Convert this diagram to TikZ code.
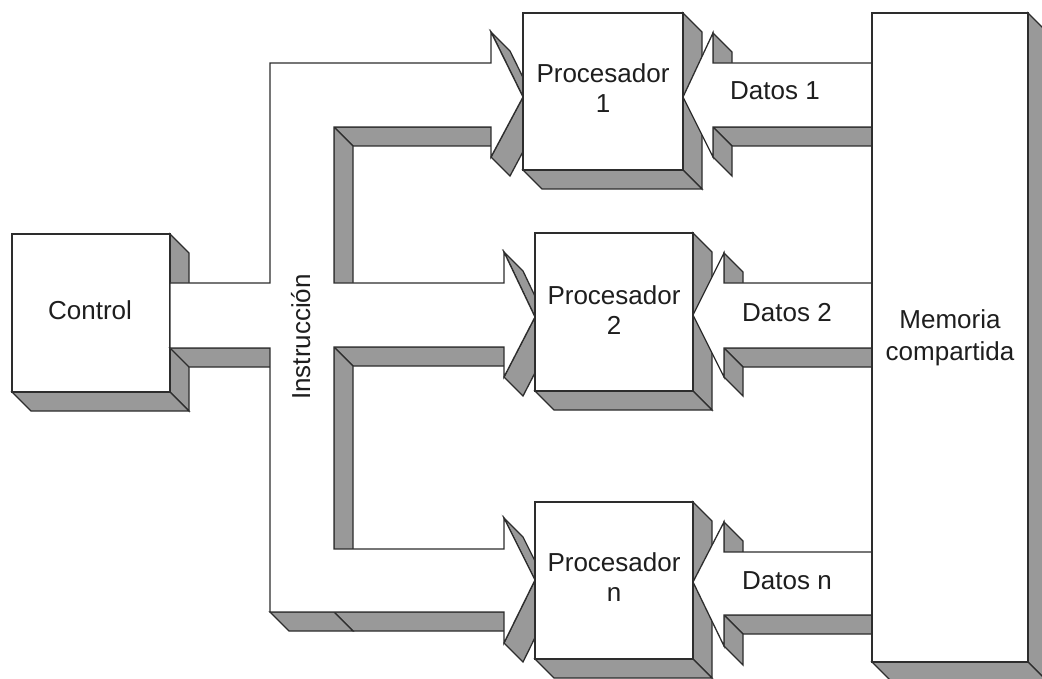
\documentclass[tikz,border=0pt]{standalone}
\usepackage{fontspec}
\setmainfont{Liberation Sans}
\usetikzlibrary{calc}
\definecolor{sidegray}{RGB}{153,153,153}
\definecolor{edgecol}{RGB}{45,45,45}
\definecolor{txtcol}{RGB}{30,30,30}
\tikzset{
  side/.style={fill=sidegray, draw=edgecol, line width=1.3pt, line join=miter},
  front/.style={fill=white, draw=edgecol, line width=1.3pt, line join=miter},
  lbl/.style={font=\fontsize{26}{30}\selectfont, align=center, text=txtcol, inner sep=0pt, outer sep=0pt},
}
\newcommand{\extq}[2]{\path[side] (#1) -- (#2) -- ($(#2)+(19,19)$) -- ($(#1)+(19,19)$) -- cycle;}
\newcommand{\procbox}[4]{%
  \extq{#3,#2}{#3,#4}
  \extq{#3,#4}{#1,#4}
  \path[front] (#1,#2) rectangle (#3,#4);}
% datos arrow: back x, tip x, tip y, top, bottom, barb top, barb bottom
\newcommand{\datarrow}[7]{%
  \extq{#1,#4}{#1,#6}
  \extq{#1,#5}{872,#5}
  \extq{#1,#7}{#1,#5}
  \path[front] (872,#4) -- (#1,#4) -- (#1,#6) -- (#2,#3) -- (#1,#7) -- (#1,#5) -- (872,#5) -- cycle;}
\begin{document}
\begin{tikzpicture}[x=1pt,y=-1pt]
\useasboundingbox (0,0) rectangle (1042,679);
\begin{scope}
\clip (0,0) rectangle (1042,679);
\fill[white] (0,0) rectangle (1042,679);
% Control box
\procbox{12}{234}{170}{392}
% Instruction bus: side faces
\extq{491,127}{334,127}
\extq{334,127}{334,283}
\extq{504,347}{334,347}
\extq{334,347}{334,549}
\extq{504,612}{334,612}
\extq{334,612}{270,612}
\extq{270,348}{170,348}
\extq{491,32}{523,97}
\extq{523,97}{491,157}
\extq{504,252}{535,317}
\extq{535,317}{504,377}
\extq{504,518}{535,580}
\extq{535,580}{504,643}
% Instruction bus: front face
\path[front] (270,63) -- (491,63) -- (491,32) -- (523,97) -- (491,157) -- (491,127)
  -- (334,127) -- (334,283) -- (504,283) -- (504,252) -- (535,317) -- (504,377) -- (504,347)
  -- (334,347) -- (334,549) -- (504,549) -- (504,518) -- (535,580) -- (504,643) -- (504,612)
  -- (270,612) -- (270,348) -- (170,348) -- (170,283) -- (270,283) -- cycle;
% Processors
\procbox{523}{13}{683}{170}
\procbox{535}{233}{693}{391}
\procbox{535}{502}{693}{659}
% Data arrows
\datarrow{713}{683}{97}{63}{127}{33}{157}
\datarrow{724}{693}{315}{283}{348}{253}{377}
\datarrow{724}{693}{582}{552}{615}{522}{646}
% Memory
\procbox{872}{13}{1028}{662}
\end{scope}
% Labels
\node[lbl] (tctrl) at (90,310.5) {Control};
\node[lbl, rotate=90, anchor=base] (tinstr) at (310,337) {Instrucción};
\node[lbl] (tp1) at (603,88.5) {Procesador\\1};
\node[lbl] (tp2) at (614,310.5) {Procesador\\2};
\node[lbl] (tpn) at (614,577.5) {Procesador\\n};
\node[lbl] (td1) at (775,91) {Datos 1};
\node[lbl] (td2) at (787,313) {Datos 2};
\node[lbl] (tdn) at (787,581) {Datos n};
\node[lbl, font=\fontsize{26}{32}\selectfont] (tmem) at (950,337.5) {Memoria\\compartida};
\end{tikzpicture}
\end{document}
